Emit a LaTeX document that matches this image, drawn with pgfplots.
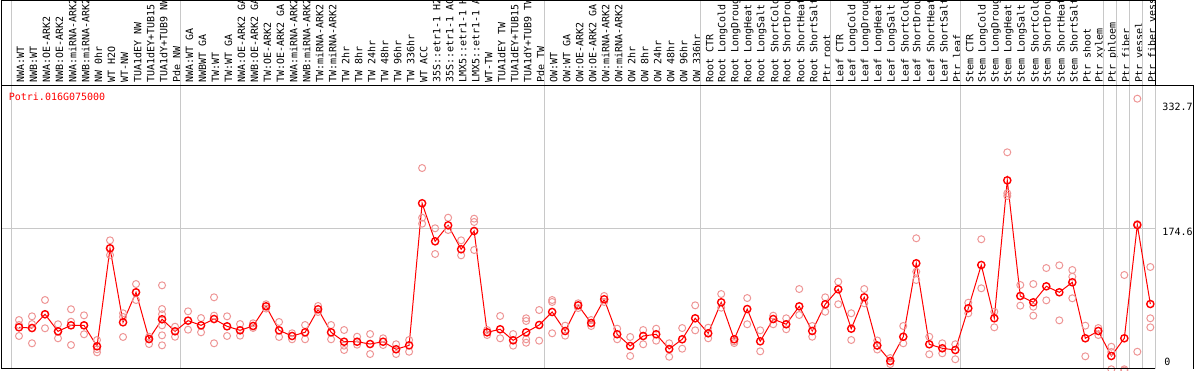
\documentclass[border=0pt]{standalone}
\usepackage{pgfplots}
\pgfplotsset{compat=1.18}
\usepackage{fontspec}
\setmonofont{DejaVu Sans Mono}
\definecolor{myred}{RGB}{255,0,0}
\definecolor{mypink}{RGB}{238,150,150}
\definecolor{gridg}{RGB}{200,200,200}
\newcommand\mono{\ttfamily\fontsize{10bp}{12bp}\selectfont}
\begin{document}
\begin{tikzpicture}[x=1bp,y=1bp]
\path[use as bounding box] (0,0) rectangle (1194,370);
\begin{axis}[
 at={(1.3bp,1.5bp)}, anchor=south west,
 scale only axis, width=1192bp, height=283.5bp,
 xmin=-1.361, xmax=90.30, ymin=3.54, ymax=349.4,
 axis line style={draw=none},
 major tick length=0pt,
 ytick=\empty,
 xtick={0.115,1.115,...,87.115},
 xticklabels={NWA:WT,NWB:WT,NWA:OE-ARK2,NWB:OE-ARK2,NWA:miRNA-ARK2,NWB:miRNA-ARK2,NW 0hr,WT H2O,WT-NW,TUA1dEY NW,TUA1dEY+TUB15 NW,TUA1dY+TUB9 NW,Pde NW,NWA:WT GA,NWBWT GA,TW:WT,TW:WT GA,NWA:OE-ARK2 GA,NWB:OE-ARK2 GA,TW:OE-ARK2,TW:OE-ARK2 GA,NWA:miRNA-ARK2 GA,NWB:miRNA-ARK2 GA,TW:miRNA-ARK2,TW:miRNA-ARK2 GA,TW 2hr,TW 8hr,TW 24hr,TW 48hr,TW 96hr,TW 336hr,WT ACC,35S::etr1-1 H2O,35S::etr1-1 ACC,LMX5::etr1-1 H2O,LMX5::etr1-1 ACC,WT-TW,TUA1dEY TW,TUA1dEY+TUB15 TW,TUA1dY+TUB9 TW,Pde TW,OW:WT,OW:WT GA,OW:OE-ARK2,OW:OE-ARK2 GA,OW:miRNA-ARK2,OW:miRNA-ARK2 GA,OW 2hr,OW 8hr,OW 24hr,OW 48hr,OW 96hr,OW 336hr,Root CTR,Root LongCold,Root LongDrought,Root LongHeat,Root LongSalt,Root ShortCold,Root ShortDrought,Root ShortHeat,Root ShortSalt,Ptr root,Leaf CTR,Leaf LongCold,Leaf LongDrought,Leaf LongHeat,Leaf LongSalt,Leaf ShortCold,Leaf ShortDrought,Leaf ShortHeat,Leaf ShortSalt,Ptr leaf,Stem CTR,Stem LongCold,Stem LongDrought,Stem LongHeat,Stem LongSalt,Stem ShortCold,Stem ShortDrought,Stem ShortHeat,Stem ShortSalt,Ptr shoot,Ptr xylem,Ptr phloem,Ptr fiber,Ptr vessel,Ptr fiber vessel},
 xticklabel pos=top,
 xticklabel style={rotate=90, anchor=west, inner sep=0pt, font=\mono},
 xticklabel shift=2bp,
 clip=false,
]
% group separators
\draw[gridg, line width=1bp] (axis cs:-0.615,3.54) -- (axis cs:-0.615,453.1);
\draw[gridg, line width=1bp] (axis cs:12.385,3.54) -- (axis cs:12.385,453.1);
\draw[gridg, line width=1bp] (axis cs:40.385,3.54) -- (axis cs:40.385,453.1);
\draw[gridg, line width=1bp] (axis cs:52.385,3.54) -- (axis cs:52.385,453.1);
\draw[gridg, line width=1bp] (axis cs:62.385,3.54) -- (axis cs:62.385,453.1);
\draw[gridg, line width=1bp] (axis cs:72.385,3.54) -- (axis cs:72.385,453.1);
\draw[gridg, line width=1bp] (axis cs:83.385,3.54) -- (axis cs:83.385,453.1);
\draw[gridg, line width=1bp] (axis cs:84.385,3.54) -- (axis cs:84.385,453.1);
\draw[gridg, line width=1bp] (axis cs:85.385,3.54) -- (axis cs:85.385,453.1);
\draw[gridg, line width=1bp] (axis cs:86.385,3.54) -- (axis cs:86.385,453.1);
\draw[gridg, line width=1bp] (axis cs:87.385,3.54) -- (axis cs:87.385,349.4);
\draw[gridg, line width=1bp] (axis cs:-1.361,174.6) -- (axis cs:87.385,174.6);
% replicates
\addplot[only marks, mark=o, color=mypink, mark size=3.5bp, mark options={line width=1bp}] coordinates {
(0,62.7)(0,56.6)(0,43.2)
(1,67.2)(1,57.8)(1,34.3)
(2,87.1)(2,52.6)(2,69.7)
(3,57.5)(3,40.4)(3,48.9)
(4,75.8)(4,60.6)(4,32.2)
(5,68.4)(5,45.3)(5,56.2)
(6,38.3)(6,27.0)(6,23.3)
(7,159.9)(7,142.0)(7,150.2)
(8,70.9)(8,66.4)(8,42.0)
(9,106.6)(9,87.1)(9,96.5)
(10,42.3)(10,33.4)(10,39.5)
(11,105.0)(11,76.1)(11,69.7)(11,56.2)(11,44.0)(11,31.8)
(12,54.5)(12,42.3)
(13,73.3)(13,50.9)
(14,65.1)(14,47.7)
(15,90.4)(15,68.0)(15,34.3)
(16,67.2)(16,43.2)
(17,57.8)(17,43.6)
(18,58.7)(18,53.0)
(19,81.9)(19,76.7)
(20,60.3)(20,42.0)
(21,46.5)(21,39.2)
(22,56.6)(22,39.2)
(23,79.8)(23,72.5)
(24,56.6)(24,39.2)
(25,50.5)(25,31.4)(25,26.1)
(26,42.3)(26,32.6)
(27,45.6)(27,21.2)
(28,40.4)(28,32.2)
(29,33.1)(29,21.2)
(30,38.3)(30,24.0)
(31,248.1)(31,187.5)(31,180.2)
(32,174.6)(32,143.2)
(33,187.5)(33,172.5)
(34,159.9)(34,141.6)
(35,186.3)(35,182.3)(35,148.1)
(36,44.4)(36,50.5)
(37,67.6)(37,40.4)
(38,45.6)(38,31.4)
(39,64.8)(39,61.5)(39,39.2)(39,35.0)
(40,74.9)(40,37.5)
(41,87.1)(41,84.7)(41,46.5)
(42,55.8)(42,43.6)
(43,83.1)(43,77.3)
(44,62.7)(44,55.4)
(45,92.0)(45,84.7)
(46,52.1)(46,39.2)
(47,42.0)(47,18.8)
(48,50.5)(48,33.1)
(49,52.1)(49,37.5)
(50,34.3)(50,17.9)
(51,52.9)(51,27.7)
(52,80.6)(52,50.1)
(53,53.3)(53,40.4)
(54,94.4)(54,77.7)
(55,36.7)(55,34.6)
(56,89.5)(56,57.5)
(57,50.1)(57,24.5)
(58,68.0)(58,57.5)
(59,64.8)(59,51.4)
(60,100.5)(60,68.8)
(61,55.4)(61,42.3)
(62,90.4)(62,72.8)
(63,109.4)(63,81.9)
(64,70.9)(64,38.3)
(65,100.5)(65,83.1)
(66,37.7)(66,26.7)
(67,16.3)(67,9.0)
(68,55.4)(68,34.3)
(69,162.4)(69,121.6)(69,111.5)
(70,42.3)(70,20.9)
(71,34.3)(71,22.1)
(72,33.1)(72,14.8)
(73,83.8)(73,70.9)
(74,161.2)(74,101.4)
(75,72.8)(75,53.8)
(76,267.3)(76,217.3)(76,214.0)
(77,105.4)(77,80.2)
(78,106.6)(78,78.9)(78,68.0)
(79,126.1)(79,86.7)
(80,129.4)(80,62.3)
(81,123.7)(81,115.5)(81,89.2)
(82,55.8)(82,18.4)
(83,52.9)(83,44.4)
(84,30.1)(84,2.6)(84,23.7)
(85,117.6)(85,2.6)(85,1.0)
(86,332.7)(86,24.0)(86,179.8)
(87,127.4)(87,64.8)(87,53.8)
};
% means
\addplot[color=myred, line width=1bp, mark=o, mark size=3.6bp, mark options={line width=1.4bp}] coordinates {
(0,53.8)(1,52.9)(2,69.7)(3,48.9)(4,56.2)(5,56.2)(6,30.6)(7,150.2)(8,59.9)(9,96.5)
(10,39.5)(11,63.6)(12,48.9)(13,61.9)(14,56.2)(15,63.9)(16,55.0)(17,50.1)(18,55.4)(19,79.4)
(20,50.1)(21,43.2)(22,47.7)(23,75.8)(24,47.7)(25,36.2)(26,36.2)(27,33.4)(28,36.2)(29,27.0)
(30,31.8)(31,205.1)(32,158.7)(33,178.2)(34,149.0)(35,171.3)(36,47.7)(37,51.4)(38,37.9)(39,47.7)
(40,56.6)(41,72.5)(42,49.3)(43,80.6)(44,59.0)(45,88.0)(46,45.3)(47,31.0)(48,43.2)(49,45.3)
(50,27.3)(51,39.2)(52,64.8)(53,46.5)(54,84.3)(55,39.2)(56,76.1)(57,36.7)(58,63.9)(59,57.5)
(60,79.4)(61,49.3)(62,81.9)(63,100.2)(64,52.1)(65,90.4)(66,31.6)(67,12.7)(68,42.3)(69,131.9)
(70,33.1)(71,28.2)(72,26.1)(73,77.0)(74,129.8)(75,64.8)(76,233.1)(77,92.0)(78,84.3)(79,103.8)
(80,96.5)(81,108.7)(82,40.4)(83,49.3)(84,18.8)(85,40.4)(86,178.6)(87,82.2)
};
\node[anchor=base west, inner sep=0pt, text=myred, font=\mono] at (axis cs:-0.792,330.2) {Potri.016G075000};
\node[anchor=base west, inner sep=0pt, font=\mono] at (axis cs:87.92,317.7) {332.7};
\node[anchor=base west, inner sep=0pt, font=\mono] at (axis cs:87.92,165.2) {174.6};
\node[anchor=base west, inner sep=0pt, font=\mono] at (axis cs:88.07,7.8) {0};
\end{axis}
\draw[black, line width=1bp] (1.3,1.5) -- (1.3,370);
\draw[black, line width=1bp] (1.3,285) -- (1194,285);
\draw[black, line width=1bp] (1.3,369.5) -- (1155.4,369.5);
\draw[black, line width=1bp] (1155.4,285) -- (1155.4,370);
\draw[black, line width=1bp] (1193.5,1.5) -- (1193.5,285);
\draw[black, line width=1bp] (1.3,1.5) -- (1155.4,1.5);
\end{tikzpicture}
\end{document}
